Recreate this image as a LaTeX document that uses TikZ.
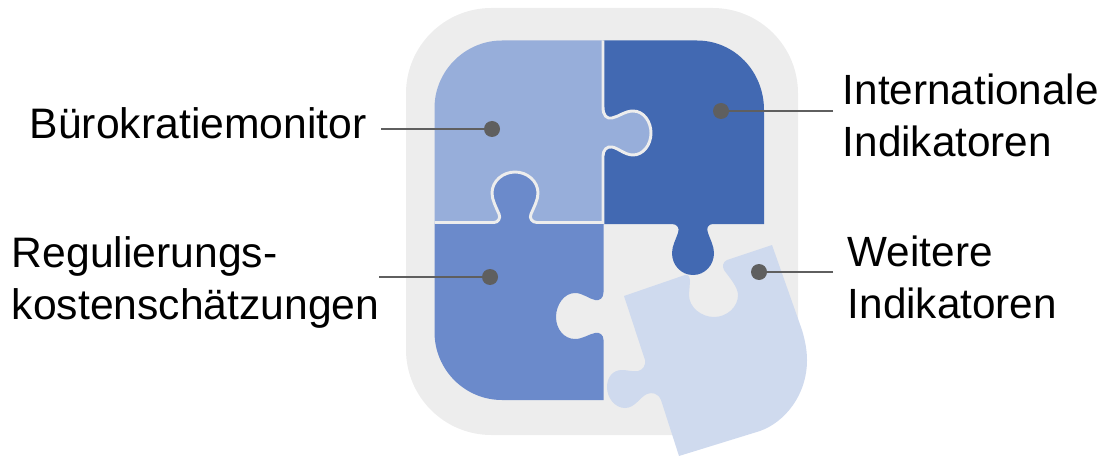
\documentclass[tikz,border=0pt]{standalone}
\usepackage{fontspec}
\setmainfont{Liberation Sans}
\definecolor{bgGray}{HTML}{EDEDED}
\definecolor{pieceLight}{HTML}{97AEDA}
\definecolor{pieceDark}{HTML}{4269B2}
\definecolor{pieceMid}{HTML}{6B8ACB}
\definecolor{piecePale}{HTML}{CFDAEE}
\definecolor{pinGray}{HTML}{5F5F5F}
\tikzset{
  pin dot/.style={circle, fill=pinGray, inner sep=0pt, minimum size=12pt},
  pin line/.style={draw=pinGray, line width=2.2pt},
  label text/.style={inner sep=0pt, align=left, anchor=west, font=\fontsize{31.7}{39}\selectfont},
  left text/.style={label text, font=\fontsize{32}{39}\selectfont}
}
% right and lower rim of the upper left piece
\newcommand{\lightrim}{(603,40.5) -- (603,107) .. controls (603,116) and (607,119) .. (612,118)
  .. controls (618,117) and (625,111) .. (633,111) .. controls (644,111) and (651,122) .. (651,133)
  .. controls (651,145) and (643,155) .. (633,155) .. controls (625,155) and (618,148) .. (612,147)
  .. controls (607,146) and (603,150) .. (603,156) -- (603,222.5)
  -- (537,222.5) .. controls (532,222.5) and (529,218) .. (531,214) .. controls (534,207) and (538,200) .. (538,193)
  .. controls (538,181) and (527,172) .. (515,172) .. controls (503,172) and (492,181) .. (492,193)
  .. controls (492,200) and (496,207) .. (499,214) .. controls (501,218) and (498,222.5) .. (494,222.5)
  -- (434.5,222.5)}

\begin{document}
\begin{tikzpicture}[x=0.75pt, y=-0.75pt]
  \useasboundingbox (0,0) rectangle (1103,456);
  \fill[bgGray, rounded corners=64pt] (406,8) rectangle (798,435);

  \fill[pieceMid] (434.5,222.5) -- (494,222.5) .. controls (498,222.5) and (501,218) .. (499,214)
    .. controls (496,207) and (492,200) .. (492,193) .. controls (492,181) and (503,172) .. (515,172)
    .. controls (527,172) and (538,181) .. (538,193) .. controls (538,200) and (534,207) .. (531,214)
    .. controls (529,218) and (532,222.5) .. (537,222.5) -- (603.5,222.5) -- (603.5,292)
    .. controls (603.5,298) and (600,301) .. (595,300)
    .. controls (589,299) and (583,293) .. (575,293) .. controls (564,293) and (556,305) .. (556,317)
    .. controls (556,329) and (564,339) .. (575,339) .. controls (583,339) and (589,334) .. (595,333)
    .. controls (600,332) and (603.5,335) .. (603.5,340) -- (603.5,400) -- (502,400)
    .. controls (465,400) and (434.5,370) .. (434.5,332) -- cycle;
  \fill[pieceDark] (603,40.5) -- (697,40.5) .. controls (734,40.5) and (764,71) .. (764,110) -- (764,224) -- (713,224)
    .. controls (708,224) and (706,228) .. (708,233) .. controls (710,239) and (714,246) .. (714,253)
    .. controls (714,265) and (705,275) .. (693,275) .. controls (681,275) and (672,265) .. (672,253)
    .. controls (672,246) and (676,239) .. (678,233) .. controls (680,228) and (677,224) .. (672,224) -- (603,224) -- cycle;
  \fill[pieceLight] \lightrim -- (434.5,108) .. controls (434.5,71) and (465,40.5) .. (502,40.5) -- cycle;
  \draw[bgGray, line width=2.2pt] \lightrim;
  \fill[piecePale] (772,245) -- (802,330) .. controls (805,340) and (807,350) .. (807,360)
    .. controls (807,395) and (785,422) .. (760,431) -- (679,456) -- (661,400)
    .. controls (658,393) and (652,392) .. (647,394) .. controls (640,397) and (635,408) .. (625,408)
    .. controls (615,408) and (607,398) .. (607,387) .. controls (607,377) and (613,370) .. (622,370)
    .. controls (628,370) and (633,372) .. (638,371) .. controls (643,370) and (646,365) .. (645,360)
    -- (624,296) -- (685,275) .. controls (688,274) and (690,277) .. (690,281) -- (689,295)
    .. controls (689,307) and (701,317) .. (714,317) .. controls (727,317) and (738,307) .. (738,295)
    .. controls (738,287) and (729,277) .. (724,270) .. controls (722,266) and (723,262) .. (727,260) -- cycle;

  \node[pin dot] (monitordot) at (492,129) {};
  \node[pin dot] (interdot) at (721,111) {};
  \node[pin dot] (regdot) at (490,277) {};
  \node[pin dot] (weiteredot) at (759,272) {};
  \coordinate (monitorend) at (381,129);
  \coordinate (interend) at (833,111);
  \coordinate (regend) at (379,277);
  \coordinate (weitereend) at (833,272);
  \draw[pin line] (monitorend) -- (monitordot);
  \draw[pin line] (interend) -- (interdot);
  \draw[pin line] (regend) -- (regdot);
  \draw[pin line] (weitereend) -- (weiteredot);

  \node[left text] (monitor) at (29.5,123) {Bürokratiemonitor};
  \node[label text] (inter) at (842.5,115) {Internationale\\Indikatoren};
  \node[left text] (reg) at (11.5,282) {Regulierungs-\\kostenschätzungen};
  \node[label text] (weitere) at (847.5,277) {Weitere\\Indikatoren};
\end{tikzpicture}
\end{document}
